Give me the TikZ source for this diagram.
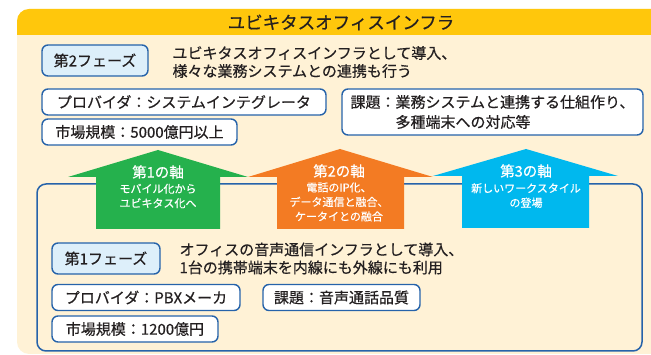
\documentclass[tikz,border=0pt]{standalone}
\usepackage{fontspec}
\setmainfont{Noto Sans CJK JP}[FakeBold=0.5]
\definecolor{hdr}{RGB}{255,199,12}
\definecolor{cream}{RGB}{255,242,214}
\definecolor{bord}{RGB}{38,99,170}
\definecolor{lblue}{RGB}{221,239,250}
\definecolor{agreen}{RGB}{37,177,77}
\definecolor{aorange}{RGB}{243,123,35}
\definecolor{acyan}{RGB}{0,184,238}
\definecolor{txt}{RGB}{35,31,32}
\tikzset{
  infobox/.style={draw=bord, line width=1.4pt, rounded corners=6pt, fill=white, inner sep=0pt, text=txt, font=\fontsize{15}{20}\selectfont},
  phasebox/.style={infobox, fill=lblue},
  atitle/.style={text=white, font=\fontsize{14.5}{17}\selectfont},
  asub/.style={text=white, font=\fontsize{11}{14.5}\selectfont, align=center},
  desc/.style={anchor=west, align=left, text=txt, font=\fontsize{15}{18}\selectfont}
}
\begin{document}
\begin{tikzpicture}[x=1pt,y=-1pt]
\useasboundingbox (0,0) rectangle (651,355);
% background
\begin{scope}
  \clip (0,0) rectangle (651,355);
  \fill[cream, rounded corners=12pt] (17,9) rectangle (690,354);
  \begin{scope}
    \clip[rounded corners=12pt] (17,9) rectangle (690,354);
    \fill[hdr] (0,0) rectangle (690,35);
  \end{scope}
\end{scope}
\node[text=txt, font=\fontsize{17.5}{20}\selectfont] (title) at (341,22.5) {ユビキタスオフィスインフラ};

% inner phase-1 frame
\draw[bord, line width=1.5pt, rounded corners=9pt] (37,184) rectangle (642,351);

% axis arrows
\fill[agreen] (96,229) -- (96,177) -- (68,177) -- (158,150) -- (248,177) -- (220,177) -- (220,229) -- cycle;
\fill[aorange] (277,229) -- (277,177) -- (248,177) -- (340,149) -- (433,177) -- (404,177) -- (404,229) -- cycle;
\fill[acyan] (462,228) -- (462,176) -- (433,176) -- (526,149) -- (618,176) -- (589,176) -- (589,228) -- cycle;

\node[atitle] (ax1) at (158,172) {第1の軸};
\node[asub] (ax1s) at (158,196) {モバイル化から\\ユビキタス化へ};
\node[atitle] (ax2) at (339,171) {第2の軸};
\node[asub] (ax2s) at (339,202) {電話のIP化、\\データ通信と融合、\\ケータイとの融合};
\node[atitle] (ax3) at (526,171) {第3の軸};
\node[asub] (ax3s) at (526,195.5) {新しいワークスタイル\\の登場};

% phase 2
\node[phasebox, minimum width=106pt, minimum height=31pt] (p2) at (95,60.5) {第2フェーズ};
\node[desc] (p2d) at (169,62) {ユビキタスオフィスインフラとして導入、\\様々な業務システムとの連携も行う};
\node[infobox, minimum width=284pt, minimum height=26pt] (p2prov) at (184,102) {プロバイダ：システムインテグレータ};
\node[infobox, minimum width=195pt, minimum height=26pt] (p2mkt) at (139.5,132) {市場規模：5000億円以上};
\node[infobox, minimum width=301pt, minimum height=46pt, align=left] (p2iss) at (492.5,112) {課題：業務システムと連携する仕組作り、\\\hspace*{3em}多種端末への対応等};

% phase 1
\node[phasebox, minimum width=108pt, minimum height=31pt] (p1) at (106,258.5) {第1フェーズ};
\node[desc] (p1d) at (176,258.5) {オフィスの音声通信インフラとして導入、\\1台の携帯端末を内線にも外線にも利用};
\node[infobox, minimum width=188pt, minimum height=26pt] (p1prov) at (146,297.5) {プロバイダ：PBXメーカ};
\node[infobox, minimum width=157pt, minimum height=26pt] (p1iss) at (341.5,297.5) {課題：音声通話品質};
\node[infobox, minimum width=166pt, minimum height=26pt] (p1mkt) at (135,329) {市場規模：1200億円};
\end{tikzpicture}
\end{document}
